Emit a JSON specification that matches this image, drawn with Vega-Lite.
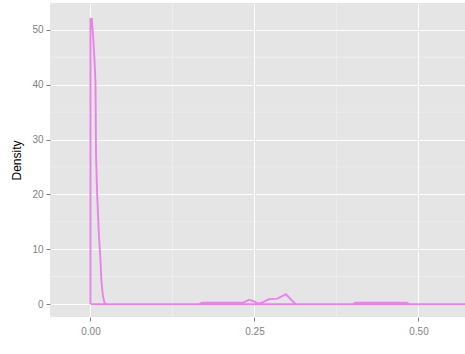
{
  "$schema": "https://vega.github.io/schema/vega-lite/v6.json",
  "width": 415,
  "height": 314,
  "autosize": {"type": "none"},
  "padding": {"left": 50, "top": 3, "right": 0, "bottom": 37},
  "background": "white",
  "config": {
    "view": {"fill": "#E5E5E5", "stroke": null},
    "font": "Liberation Sans",
    "axis": {
      "gridColor": "#FFFFFF",
      "gridWidth": 1,
      "gridOpacity": 1,
      "domain": false,
      "tickColor": "#7F7F7F",
      "tickSize": 4,
      "tickWidth": 1,
      "labelColor": "#7F7F7F",
      "labelFontSize": 10,
      "labelFont": "Liberation Sans",
      "titleFont": "Liberation Sans",
      "titleFontWeight": "normal",
      "titleColor": "#000000",
      "titleFontSize": 12
    }
  },
  "datasets": {
    "curve": [
      {"i": 0, "x": 0, "y": 0},
      {"i": 1, "x": 0, "y": 52},
      {"i": 2, "x": 0.002, "y": 52},
      {"i": 3, "x": 0.0041, "y": 48.7},
      {"i": 4, "x": 0.0061, "y": 44.5},
      {"i": 5, "x": 0.0076, "y": 40.5},
      {"i": 6, "x": 0.0085, "y": 27},
      {"i": 7, "x": 0.0102, "y": 20},
      {"i": 8, "x": 0.0127, "y": 13},
      {"i": 9, "x": 0.0152, "y": 8},
      {"i": 10, "x": 0.0168, "y": 4},
      {"i": 11, "x": 0.019, "y": 1.5},
      {"i": 12, "x": 0.021, "y": 0.4},
      {"i": 13, "x": 0.023, "y": 0},
      {"i": 15, "x": 0.166, "y": 0},
      {"i": 16, "x": 0.17, "y": 0.25},
      {"i": 17, "x": 0.232, "y": 0.25},
      {"i": 18, "x": 0.242, "y": 0.8},
      {"i": 19, "x": 0.25, "y": 0.45},
      {"i": 20, "x": 0.256, "y": 0.1},
      {"i": 21, "x": 0.264, "y": 0.4},
      {"i": 22, "x": 0.272, "y": 0.9},
      {"i": 23, "x": 0.285, "y": 1.0},
      {"i": 24, "x": 0.298, "y": 1.8},
      {"i": 25, "x": 0.306, "y": 0.8},
      {"i": 26, "x": 0.313, "y": 0},
      {"i": 27, "x": 0.4, "y": 0},
      {"i": 28, "x": 0.404, "y": 0.25},
      {"i": 29, "x": 0.482, "y": 0.25},
      {"i": 30, "x": 0.486, "y": 0},
      {"i": 31, "x": 0.65, "y": 0},
      {"i": 32, "x": 0, "y": 0}
    ],
    "minorX": [{"mx": 0.125}, {"mx": 0.375}],
    "minorY": [{"my": 5}, {"my": 15}, {"my": 25}, {"my": 35}, {"my": 45}]
  },
  "layer": [
    {
      "data": {"name": "minorX"},
      "mark": {"type": "rule", "color": "#F2F2F2", "strokeWidth": 0.6},
      "encoding": {
        "x": {
          "field": "mx",
          "type": "quantitative",
          "scale": {"domain": [-0.0617, 0.5709], "nice": false, "zero": false},
          "axis": {"values": [0, 0.25, 0.5], "format": ".2f", "title": null, "labelPadding": 5}
        }
      }
    },
    {
      "data": {"name": "minorY"},
      "mark": {"type": "rule", "color": "#F2F2F2", "strokeWidth": 0.6},
      "encoding": {
        "y": {
          "field": "my",
          "type": "quantitative",
          "scale": {"domain": [-2.35, 54.9], "nice": false, "zero": false},
          "axis": {"values": [0, 10, 20, 30, 40, 50], "title": "Density", "labelPadding": 3, "titlePadding": 8}
        }
      }
    },
    {
      "data": {"name": "curve"},
      "mark": {"type": "line", "color": "#EA82EA", "strokeWidth": 1.9, "clip": true, "strokeJoin": "miter"},
      "encoding": {
        "x": {"field": "x", "type": "quantitative"},
        "y": {"field": "y", "type": "quantitative"},
        "order": {"field": "i", "type": "quantitative"}
      }
    }
  ]
}
